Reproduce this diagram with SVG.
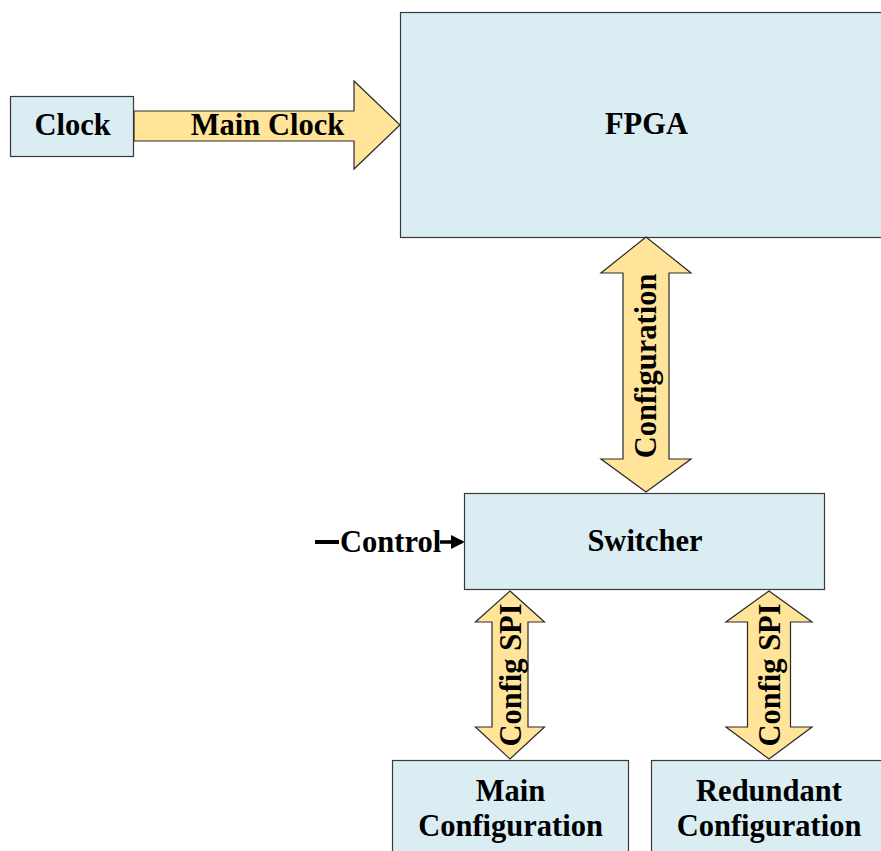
<svg xmlns="http://www.w3.org/2000/svg" width="881" height="851" viewBox="0 0 881 851">
  <style>
    .box { fill: #DAEDF3; stroke: #3a3a3a; stroke-width: 1.2; }
    .bus { fill: #FFE49A; stroke: #2a2a2a; stroke-width: 1.2; stroke-linejoin: miter; }
    .lbl { font-family: "Liberation Serif", "Times New Roman", serif; font-weight: bold; font-size: 30.5px; fill: #000; }
    .mid { text-anchor: middle; }
  </style>
  <defs>
    <marker id="tip" markerWidth="4" markerHeight="4" refX="3.2" refY="2" orient="auto" markerUnits="strokeWidth">
      <path d="M0,0 L4,2 L0,4 Z" fill="#000"/>
    </marker>
  </defs>

  <rect x="0" y="0" width="881" height="851" fill="#fff"/>

  <!-- blocks -->
  <g id="clock">
    <rect class="box" x="10.5" y="96.5" width="123" height="60"/>
    <text class="lbl mid" x="72.5" y="135">Clock</text>
  </g>

  <g id="fpga">
    <rect class="box" x="400.5" y="12.5" width="482" height="225"/>
    <text class="lbl mid" x="646.5" y="134">FPGA</text>
  </g>

  <g id="switcher">
    <rect class="box" x="464.5" y="493.5" width="360" height="96"/>
    <text class="lbl mid" x="645" y="551">Switcher</text>
  </g>

  <g id="main-config">
    <rect class="box" x="392.5" y="760.5" width="236" height="100"/>
    <text class="lbl mid" x="510.5" y="801">Main</text>
    <text class="lbl mid" x="510.5" y="836">Configuration</text>
  </g>

  <g id="redundant-config">
    <rect class="box" x="651.5" y="760.5" width="240" height="100"/>
    <text class="lbl mid" x="769" y="801">Redundant</text>
    <text class="lbl mid" x="769" y="836">Configuration</text>
  </g>

  <!-- buses and signals -->
  <g id="connectors">
    <g id="main-clock-bus">
      <polygon class="bus" points="134,111 354,111 354,81 400,125 354,169 354,141 134,141"/>
      <text class="lbl mid" x="267.5" y="135">Main Clock</text>
    </g>

    <g id="configuration-bus">
      <polygon class="bus" points="646,237 691,273 669,273 669,459 691,459 646,492 601,459 623,459 623,273 601,273"/>
      <text class="lbl mid" transform="translate(656,366) rotate(-90)" x="0" y="0">Configuration</text>
    </g>

    <g id="spi-main-bus">
      <polygon class="bus" points="510,591 544.5,622 528,622 528,727 544.5,727 510,759 475.5,727 492,727 492,622 475.5,622"/>
      <text class="lbl mid" transform="translate(521,675) rotate(-90)" x="0" y="0">Config SPI</text>
    </g>

    <g id="spi-redundant-bus">
      <polygon class="bus" points="769,591 812,622 790.5,622 790.5,727 812,727 769,759 726,727 747.5,727 747.5,622 726,622"/>
      <text class="lbl mid" transform="translate(780,675) rotate(-90)" x="0" y="0">Config SPI</text>
    </g>

    <g id="control-signal">
      <line x1="315" y1="542" x2="339" y2="542" stroke="#000" stroke-width="4"/>
      <text class="lbl" x="340" y="552">Control</text>
      <line x1="440" y1="542" x2="462" y2="542" stroke="#000" stroke-width="3.5" marker-end="url(#tip)"/>
    </g>
  </g>
</svg>
